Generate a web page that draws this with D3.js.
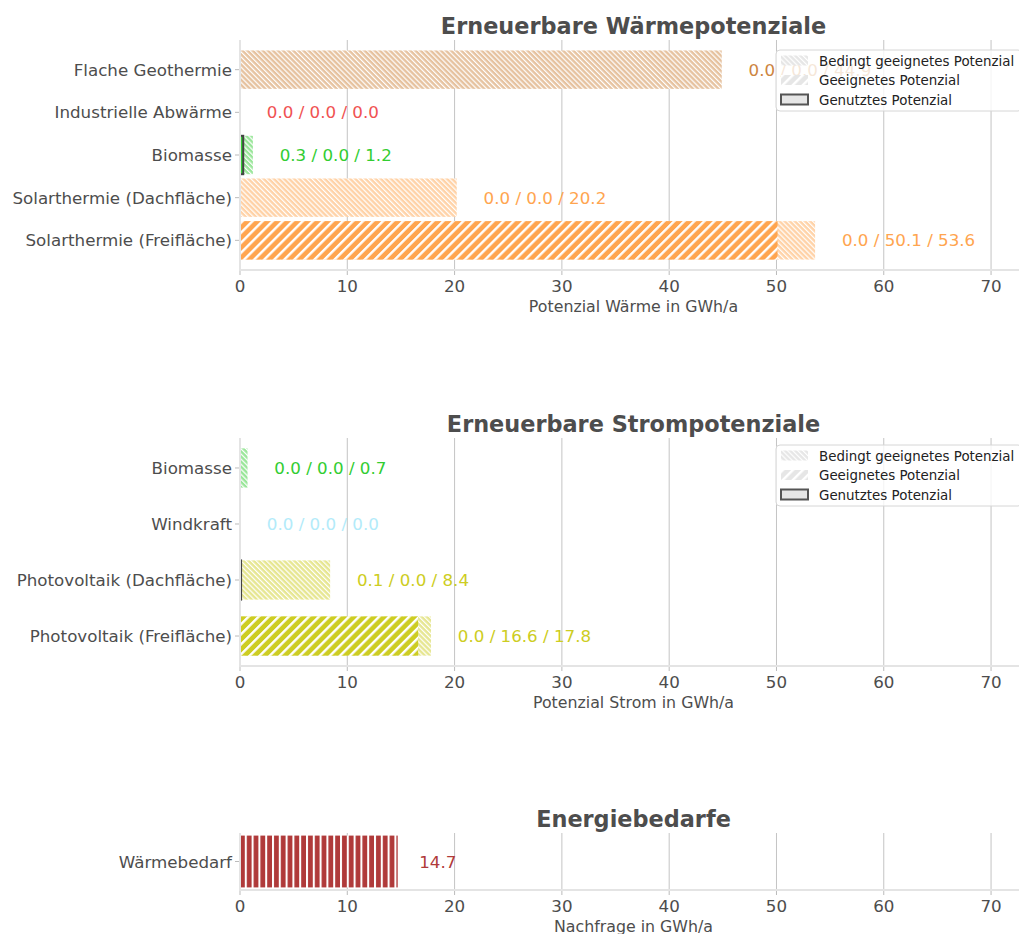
<!DOCTYPE html>
<html>
<head>
<meta charset="utf-8"/>
<title>Erneuerbare Potenziale</title>
<script src="https://d3js.org/d3.v7.min.js"></script>
<style>
	body{margin:0;background:#fff;}
	svg text{font-family:"DejaVu Sans",sans-serif;}
</style>
</head>
<body>
<div id="well"></div>
<script>
// --- data ---
var waermeCats = ["Flache Geothermie", "Industrielle Abwärme", "Biomasse", "Solarthermie (Dachfläche)", "Solarthermie (Freifläche)"];
var waermeGenutzt = [0.0, 0.0, 0.3, 0.0, 0.0];
var waermeGeeignet = [0.0, 0.0, 0.0, 0.0, 50.1];
var waermeGesamt = [44.9, 0.0, 1.2, 20.2, 53.6];

var stromCats = ["Biomasse", "Windkraft", "Photovoltaik (Dachfläche)", "Photovoltaik (Freifläche)"];
var stromGenutzt = [0.0, 0.0, 0.1, 0.0];
var stromGeeignet = [0.0, 0.0, 0.0, 16.6];
var stromGesamt = [0.7, 0.0, 8.4, 17.8];

var bedarfCats = ["Wärmebedarf"];
var bedarfWerte = [14.7];

var xTicks = [0, 10, 20, 30, 40, 50, 60, 70];
var legendLabels = ["Bedingt geeignetes Potenzial", "Geeignetes Potenzial", "Genutztes Potenzial"];

// colours per category
var farben = {
	"Flache Geothermie": "#cd853f",
	"Industrielle Abwärme": "#f05252",
	"Biomasse": "#32cd32",
	"Solarthermie (Dachfläche)": "#ffa54f",
	"Solarthermie (Freifläche)": "#ffa54f",
	"Windkraft": "#b3ebfa",
	"Photovoltaik (Dachfläche)": "#cdcd22",
	"Photovoltaik (Freifläche)": "#cdcd22",
	"Wärmebedarf": "#b03a3a"
};
var textGrau = "#4d4d4d";

var W = 1019, H = 934;
var left = 240, right = 1027;

var svg = d3.select("#well").append("svg")
	.attr("width", W).attr("height", H);
var defs = svg.append("defs");

function hell(c){
	return d3.interpolateRgb(c, "#ffffff")(0.5);
}

var patId = 0;
function stripes(color, period, lineW, angle){
	var id = "p" + (patId++);
	var p = defs.append("pattern")
		.attr("id", id)
		.attr("patternUnits", "userSpaceOnUse")
		.attr("width", period).attr("height", period)
		.attr("patternTransform", "rotate(" + angle + ")");
	p.append("rect").attr("width", period).attr("height", period).attr("fill", color);
	p.append("rect").attr("x", 0).attr("width", lineW).attr("height", period).attr("fill", "#fff");
	return "url(#" + id + ")";
}

var x = d3.scaleLinear().domain([0, 73.35]).range([left, right]);

function panel(cfg){
	var n = cfg.cats.length;
	var h = cfg.barH;
	var m = 0.05 * (n - 1 + h);
	var y = d3.scaleLinear()
		.domain([-h / 2 - m, n - 1 + h / 2 + m])
		.range([cfg.top, cfg.bottom]);
	var bh = y(h) - y(0);
	var g = svg.append("g");

	// grid
	g.selectAll(".grid").data(xTicks).enter().append("line")
		.attr("x1", d => x(d)).attr("x2", d => x(d))
		.attr("y1", cfg.top).attr("y2", cfg.bottom)
		.attr("stroke", "#c4c4c4").attr("stroke-width", 1);

	cfg.cats.forEach(function(c, i){
		var col = farben[c];
		var yc = y(i);
		if (cfg.gesamt[i] > 0){
			g.append("rect")
				.attr("x", x(0)).attr("y", yc - bh / 2)
				.attr("width", x(cfg.gesamt[i]) - x(0)).attr("height", bh)
				.attr("fill", cfg.vertical ? stripes(col, 6.8, 2, 0) : stripes(hell(col), 3.6, 1.2, -45));
		}
		if (cfg.geeignet && cfg.geeignet[i] > 0){
			g.append("rect")
				.attr("x", x(0)).attr("y", yc - bh / 2)
				.attr("width", x(cfg.geeignet[i]) - x(0)).attr("height", bh)
				.attr("fill", stripes(col, 7.1, 2.4, 45));
		}
		if (cfg.genutzt && cfg.genutzt[i] > 0){
			g.append("rect")
				.attr("x", x(0)).attr("y", yc - bh / 2)
				.attr("width", x(cfg.genutzt[i]) - x(0)).attr("height", bh)
				.attr("fill", col).attr("stroke", "#444").attr("stroke-width", 2);
		}
		var txt = cfg.genutzt
			? cfg.genutzt[i].toFixed(1) + " / " + cfg.geeignet[i].toFixed(1) + " / " + cfg.gesamt[i].toFixed(1)
			: cfg.gesamt[i].toFixed(1);
		g.append("text")
			.attr("x", x(cfg.gesamt[i] + cfg.offset)).attr("y", yc + 6)
			.attr("font-size", "16.7px").attr("fill", col)
			.text(txt);
		// category label + tick
		g.append("line").attr("x1", left - 5).attr("x2", left).attr("y1", yc).attr("y2", yc)
			.attr("stroke", "#bbb").attr("stroke-width", 1);
		g.append("text")
			.attr("x", left - 8).attr("y", yc + 6)
			.attr("text-anchor", "end").attr("font-size", "16.7px").attr("fill", textGrau)
			.text(c);
	});

	// spines
	g.append("line").attr("x1", left).attr("x2", left).attr("y1", cfg.top).attr("y2", cfg.bottom)
		.attr("stroke", "#e4e4e4").attr("stroke-width", 2);
	g.append("line").attr("x1", left - 1).attr("x2", right).attr("y1", cfg.bottom).attr("y2", cfg.bottom)
		.attr("stroke", "#e4e4e4").attr("stroke-width", 2);

	// x ticks
	var xt = g.selectAll(".xt").data(xTicks).enter().append("g")
		.attr("transform", d => "translate(" + x(d) + "," + cfg.bottom + ")");
	xt.append("line").attr("y1", 1).attr("y2", 5).attr("stroke", "#bbb");
	xt.append("text").attr("y", 22).attr("text-anchor", "middle")
		.attr("font-size", "16.7px").attr("fill", textGrau).text(d => d);

	g.append("text").attr("x", (left + right) / 2).attr("y", cfg.bottom + 42)
		.attr("text-anchor", "middle").attr("font-size", "15.8px").attr("fill", textGrau)
		.text(cfg.xlabel);

	g.append("text").attr("x", (left + right) / 2).attr("y", cfg.top - 6)
		.attr("text-anchor", "middle").attr("font-size", "22.4px").attr("font-weight", "bold")
		.attr("fill", textGrau).text(cfg.title);

	if (cfg.legend){
		var lg = g.append("g").attr("transform", "translate(776," + (cfg.top + cfg.legendDy) + ")");
		lg.append("rect").attr("width", 246).attr("height", 61).attr("rx", 4)
			.attr("fill", "#fff").attr("fill-opacity", 0.8).attr("stroke", "#d6d6d6");
		var fills = [stripes("#e6e6e6", 3.6, 1.2, -45), stripes("#e6e6e6", 7.1, 2.4, 45), "#e6e6e6"];
		legendLabels.forEach(function(l, j){
			var ly = 10.5 + j * 19.5;
			lg.append("rect").attr("x", 5).attr("y", ly - 5).attr("width", 27).attr("height", 10)
				.attr("fill", fills[j])
				.attr("stroke", j === 2 ? "#555" : "none").attr("stroke-width", 2);
			lg.append("text").attr("x", 43).attr("y", ly + 5)
				.attr("font-size", "13.4px").attr("fill", "#222").text(l);
		});
	}
}

panel({title: "Erneuerbare Wärmepotenziale", xlabel: "Potenzial Wärme in GWh/a",
	cats: waermeCats, genutzt: waermeGenutzt, geeignet: waermeGeeignet, gesamt: waermeGesamt,
	top: 40, bottom: 270, barH: 0.9, offset: 2.5, legend: true, legendDy: 10});

panel({title: "Erneuerbare Strompotenziale", xlabel: "Potenzial Strom in GWh/a",
	cats: stromCats, genutzt: stromGenutzt, geeignet: stromGeeignet, gesamt: stromGesamt,
	top: 438, bottom: 666, barH: 0.7, offset: 2.5, legend: true, legendDy: 7});

panel({title: "Energiebedarfe", xlabel: "Nachfrage in GWh/a",
	cats: bedarfCats, gesamt: bedarfWerte,
	top: 833, bottom: 890, barH: 0.8, offset: 2.0, vertical: true});
</script>
</body>
</html>
